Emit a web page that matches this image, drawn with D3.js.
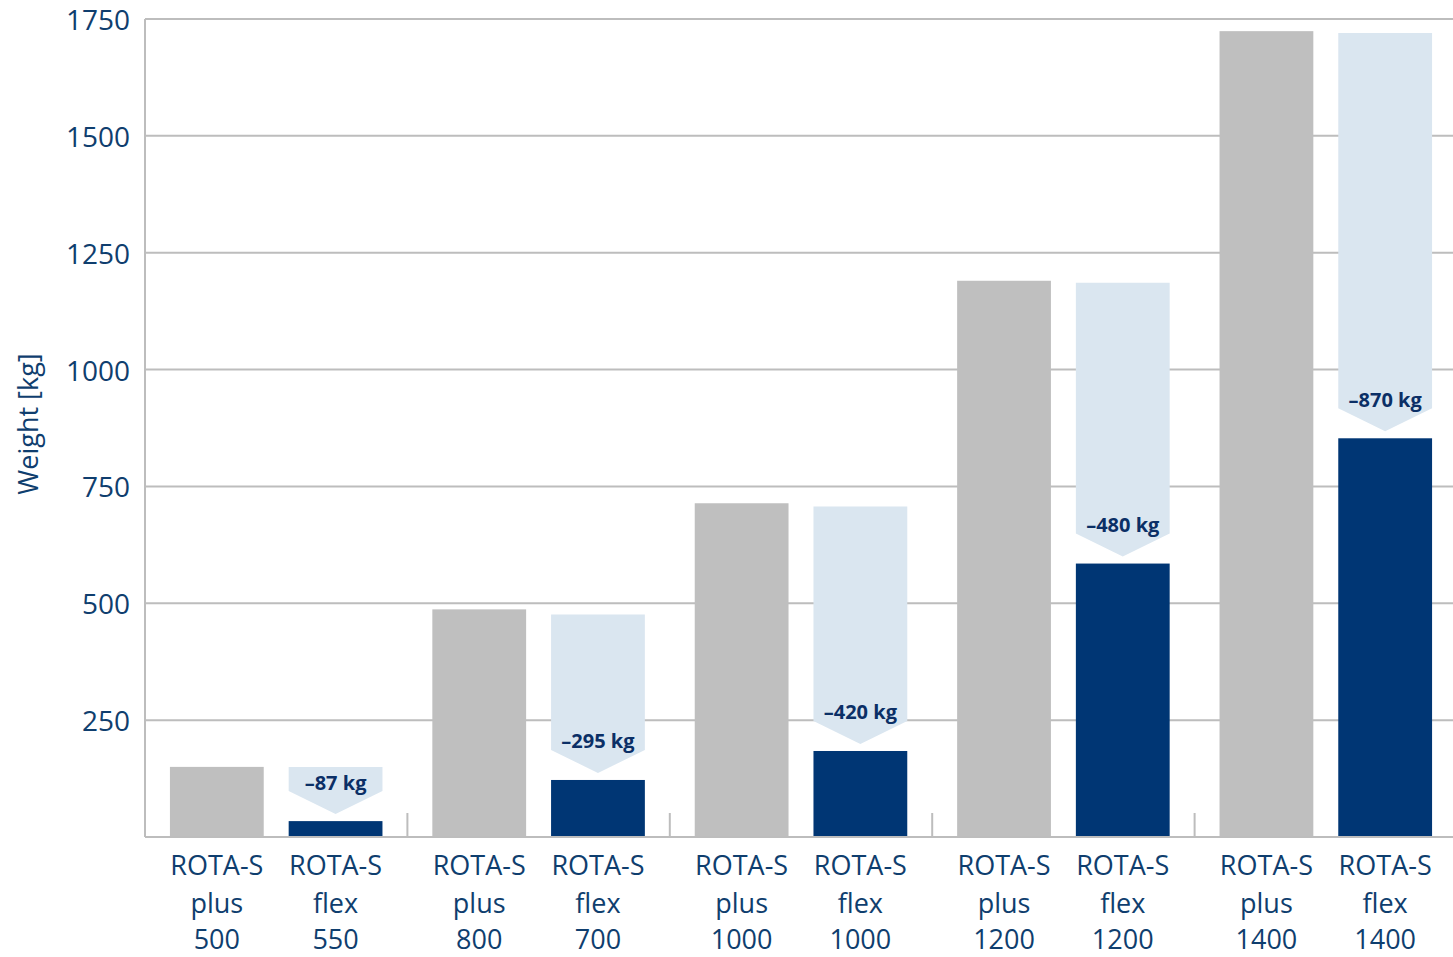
<!DOCTYPE html>
<html>
<head>
<meta charset="utf-8">
<script src="https://cdn.jsdelivr.net/npm/d3@7"></script>
<style>
  body { margin: 0; background: #fff; }
  svg { display: block; font-family: "Open Sans", sans-serif; }
</style>
</head>
<body>
<svg id="chart" width="1453" height="957"></svg>
<script>
// data
const groups = ["g1", "g2", "g3", "g4", "g5"];
const plusLabels = ["500", "800", "1000", "1200", "1400"];
const flexLabels = ["550", "700", "1000", "1200", "1400"];
const plusWeight = [150, 487, 714, 1190, 1724];
const flexBefore = [150, 476, 707, 1186, 1720];
const flexWeight = [34, 122, 184, 585, 853];
const savings = [87, 295, 420, 480, 870];
const yTicks = [250, 500, 750, 1000, 1250, 1500, 1750];

const grey = "#bfbfbf", navy = "#003674", light = "#dae6f0", axisBlue = "#0f3e6e", line = "#bdbdbd";

const svg = d3.select("#chart");
const plotL = 145, plotR = 1457, plotT = 19, plotB = 837;

const y = d3.scaleLinear().domain([0, 1750]).range([plotB, plotT]);
const x0 = d3.scaleBand().domain(groups).range([plotL, plotR]);
const x1 = d3.scaleBand().domain(["plus", "flex"]).range([0, x0.bandwidth()])
  .paddingInner(0.21).paddingOuter(0.21);

// gridlines
svg.append("g").selectAll("line")
  .data(yTicks)
  .enter().append("line")
  .attr("x1", plotL).attr("x2", 1453)
  .attr("y1", d => y(d)).attr("y2", d => y(d))
  .attr("stroke", line).attr("stroke-width", 2);

// y tick labels
svg.append("g").selectAll("text")
  .data(yTicks)
  .enter().append("text")
  .attr("x", 130).attr("y", d => y(d))
  .attr("text-anchor", "end").attr("dominant-baseline", "central")
  .attr("font-size", 28).attr("fill", axisBlue)
  .text(d => d);

svg.append("text")
  .attr("transform", "translate(27,424) rotate(-90)")
  .attr("text-anchor", "middle").attr("dominant-baseline", "central")
  .attr("font-size", 27).attr("fill", axisBlue)
  .text("Weight [kg]");

const g = svg.append("g").selectAll("g")
  .data(groups)
  .enter().append("g")
  .attr("transform", d => `translate(${x0(d)},0)`);

// plus bars
g.append("rect")
  .attr("x", x1("plus")).attr("width", x1.bandwidth())
  .attr("y", (d, i) => y(plusWeight[i]))
  .attr("height", (d, i) => y(0) - y(plusWeight[i]))
  .attr("fill", grey);

// light arrows from old weight down to the flex bar
g.append("path")
  .attr("fill", light)
  .attr("d", (d, i) => {
    const xl = x1("flex"), xr = xl + x1.bandwidth(), xm = (xl + xr) / 2;
    const t = y(flexBefore[i]);
    const tip = y(flexWeight[i]) - 7;
    const base = tip - 23;
    return `M${xl},${t}L${xr},${t}L${xr},${base}L${xm},${tip}L${xl},${base}Z`;
  });

// flex bars
g.append("rect")
  .attr("x", x1("flex")).attr("width", x1.bandwidth())
  .attr("y", (d, i) => y(flexWeight[i]))
  .attr("height", (d, i) => y(0) - y(flexWeight[i]))
  .attr("fill", navy);

// savings labels
g.append("text")
  .attr("x", x1("flex") + x1.bandwidth() / 2)
  .attr("y", (d, i) => y(flexWeight[i]) - 39)
  .attr("text-anchor", "middle").attr("dominant-baseline", "central")
  .attr("font-size", 20).attr("font-weight", "bold").attr("fill", "#0b2f66")
  .text((d, i) => `\u2013${savings[i]} kg`);

// x category labels
function catLabel(sel, key, labels) {
  const t = sel.append("text")
    .attr("text-anchor", "middle")
    .attr("font-size", 27).attr("fill", axisBlue);
  const cx = x1(key) + x1.bandwidth() / 2;
  t.append("tspan").attr("x", cx).attr("y", 875).text("ROTA-S");
  t.append("tspan").attr("x", cx).attr("y", 913).text(key);
  t.append("tspan").attr("x", cx).attr("y", 949).text((d, i) => labels[i]);
}
catLabel(g, "plus", plusLabels);
catLabel(g, "flex", flexLabels);

// axes lines
svg.append("line")
  .attr("x1", plotL).attr("x2", plotL).attr("y1", plotT).attr("y2", plotB)
  .attr("stroke", line).attr("stroke-width", 2);
svg.append("line")
  .attr("x1", plotL).attr("x2", 1453).attr("y1", plotB).attr("y2", plotB)
  .attr("stroke", line).attr("stroke-width", 2);

// group separators
svg.append("g").selectAll("line")
  .data(groups.slice(1))
  .enter().append("line")
  .attr("x1", d => x0(d)).attr("x2", d => x0(d))
  .attr("y1", plotB - 24).attr("y2", plotB)
  .attr("stroke", line).attr("stroke-width", 2);
</script>
</body>
</html>
